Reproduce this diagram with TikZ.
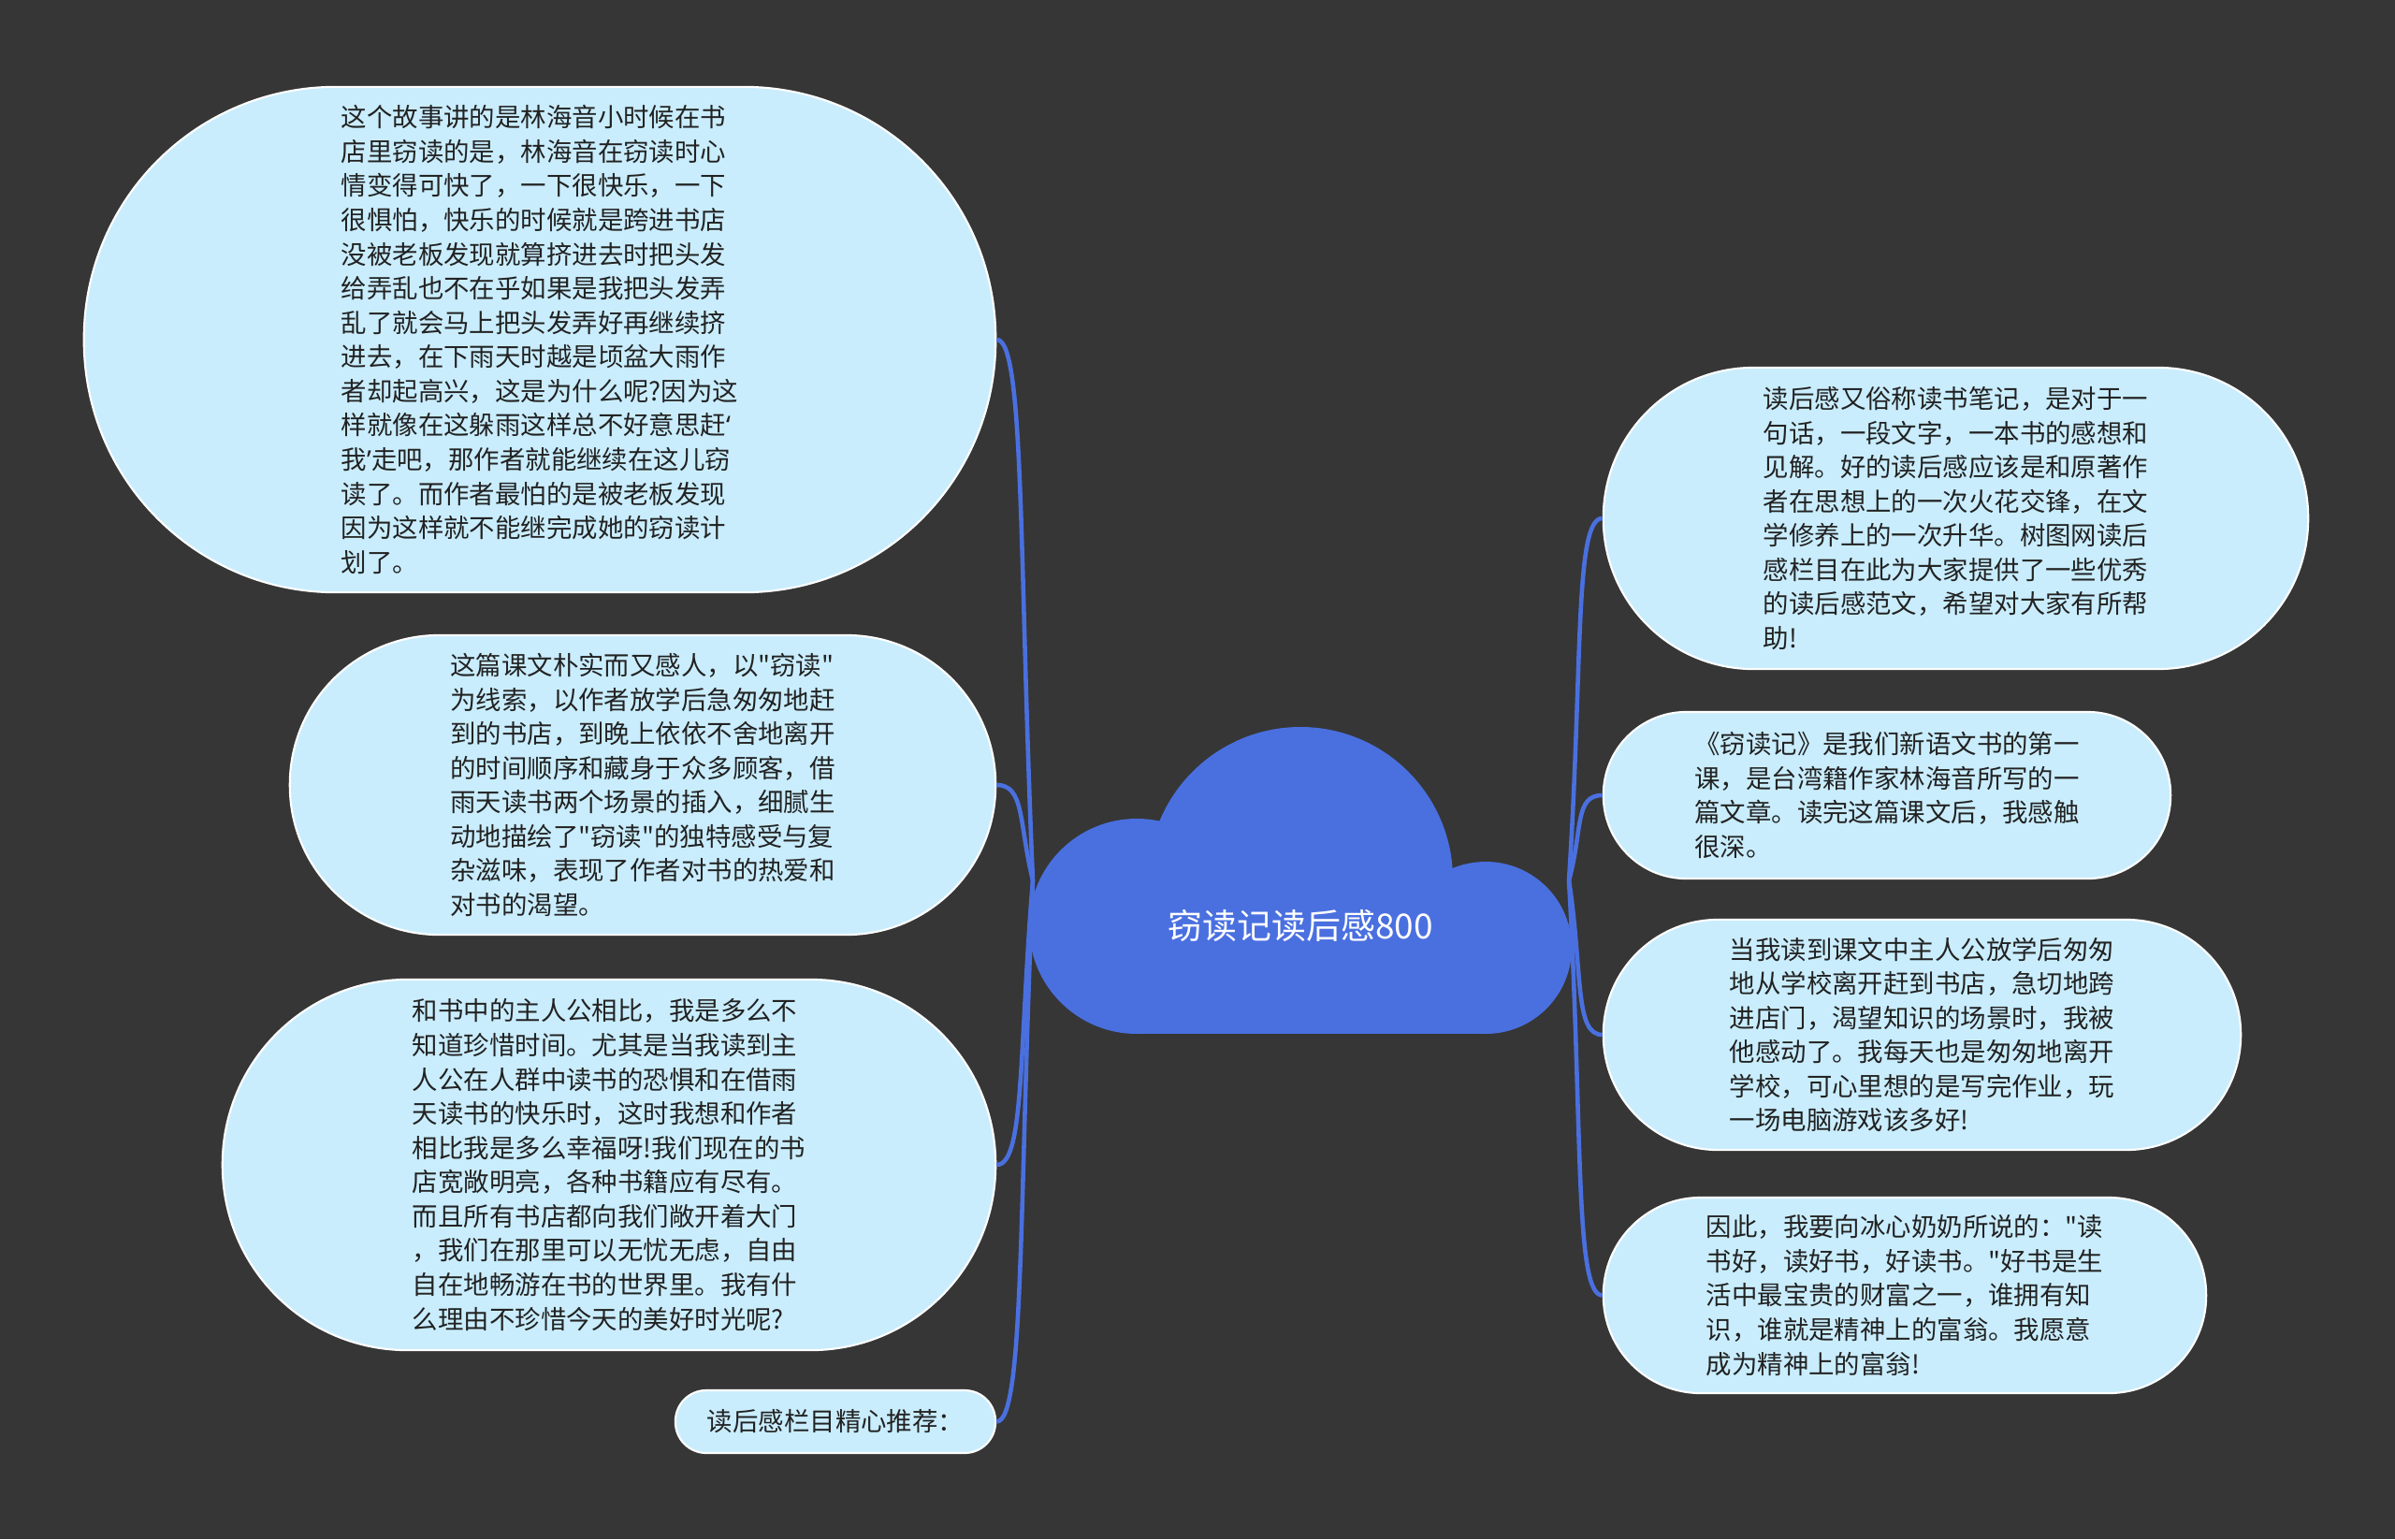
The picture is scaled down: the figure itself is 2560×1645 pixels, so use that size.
\documentclass[tikz,border=0pt]{standalone}
\usepackage{fontspec}
\newfontfamily\cjk{Noto Sans CJK SC}
\newfontfamily\latin{Noto Sans}
\usetikzlibrary{calc}
\definecolor{bgdark}{RGB}{54,54,54}
\definecolor{cloudblue}{RGB}{74,112,224}
\definecolor{leafblue}{RGB}{201,237,253}
\definecolor{inkdark}{RGB}{34,34,34}
\tikzset{
  leaf/.style={draw=white, line width=0.6pt, fill=leafblue, text=inkdark, align=left, inner sep=0pt,
    font=\cjk\fontsize{7.8}{10.4}\selectfont},
  link/.style={cloudblue, line width=1.3pt},
}

\begin{document}
\begin{tikzpicture}[x=0.01cm, y=-0.01cm]
  \fill[bgdark] (0,0) rectangle (2560,1645);
  \useasboundingbox (0,0) rectangle (2560,1645);
  % central cloud
  \foreach \cx/\cy/\r in {1215/990/115, 1390/940/163, 1588/1013/92}
    \fill[cloudblue] (\cx,\cy) circle[radius=\r];
  \fill[cloudblue] (1215,990) rectangle (1588,1105);
  \node[text=white, font=\cjk\fontsize{10.5}{12}\selectfont] (root) at (1390,990) {窃读记读后感800};
  \coordinate (rootW) at (1104,941);
  \coordinate (rootE) at (1677,941);
  % left branches
  \node[leaf, minimum width=9.74cm, minimum height=5.4cm, rounded corners=2.69cm] (l1) at (577,363)
    {这个故事讲的是林海音小时候在书\\店里窃读的是，林海音在窃读时心\\情变得可快了，一下很快乐，一下\\很惧怕，快乐的时候就是跨进书店\\没被老板发现就算挤进去时把头发\\给弄乱也不在乎如果是我把头发弄\\乱了就会马上把头发弄好再继续挤\\进去，在下雨天时越是顷盆大雨作\\者却起高兴，这是为什么呢?因为这\\样就像在这躲雨这样总不好意思赶{\latin ‘}\\我{\latin ’}走吧，那作者就能继续在这儿窃\\读了。而作者最怕的是被老板发现\\因为这样就不能继完成她的窃读计\\划了。};
  \node[leaf, minimum width=7.54cm, minimum height=3.2cm, rounded corners=1.595cm] (l2) at (687,839)
    {这篇课文朴实而又感人，以"窃读"\\为线索，以作者放学后急匆匆地赶\\到的书店，到晚上依依不舍地离开\\的时间顺序和藏身于众多顾客，借\\雨天读书两个场景的插入，细腻生\\动地描绘了"窃读"的独特感受与复\\杂滋味，表现了作者对书的热爱和\\对书的渴望。};
  \node[leaf, minimum width=8.26cm, minimum height=3.96cm, rounded corners=1.975cm] (l3) at (651,1245)
    {和书中的主人公相比，我是多么不\\知道珍惜时间。尤其是当我读到主\\人公在人群中读书的恐惧和在借雨\\天读书的快乐时，这时我想和作者\\相比我是多么幸福呀!我们现在的书\\店宽敞明亮，各种书籍应有尽有。\\而且所有书店都向我们敞开着大门\\，我们在那里可以无忧无虑，自由\\自在地畅游在书的世界里。我有什\\么理由不珍惜今天的美好时光呢?};
  \node[leaf, minimum width=3.42cm, minimum height=0.67cm, rounded corners=0.33cm] (l4) at (893,1519.5)
    {读后感栏目精心推荐：};
  % right branches
  \node[leaf, minimum width=7.53cm, minimum height=3.22cm, rounded corners=1.605cm] (r1) at (2090.5,554)
    {读后感又俗称读书笔记，是对于一\\句话，一段文字，一本书的感想和\\见解。好的读后感应该是和原著作\\者在思想上的一次火花交锋，在文\\学修养上的一次升华。树图网读后\\感栏目在此为大家提供了一些优秀\\的读后感范文，希望对大家有所帮\\助!};
  \node[leaf, minimum width=6.06cm, minimum height=1.78cm, rounded corners=0.885cm] (r2) at (2017,850)
    {《窃读记》是我们新语文书的第一\\课，是台湾籍作家林海音所写的一\\篇文章。读完这篇课文后，我感触\\很深。};
  \node[leaf, minimum width=6.81cm, minimum height=2.46cm, rounded corners=1.225cm] (r3) at (2054.5,1106)
    {当我读到课文中主人公放学后匆匆\\地从学校离开赶到书店，急切地跨\\进店门，渴望知识的场景时，我被\\他感动了。我每天也是匆匆地离开\\学校，可心里想的是写完作业，玩\\一场电脑游戏该多好!};
  \node[leaf, minimum width=6.44cm, minimum height=2.09cm, rounded corners=1.04cm] (r4) at (2036,1384.5)
    {因此，我要向冰心奶奶所说的："读\\书好，读好书，好读书。"好书是生\\活中最宝贵的财富之一，谁拥有知\\识，谁就是精神上的富翁。我愿意\\成为精神上的富翁!};
  % connectors
  \foreach \n in {l1,l2,l3,l4}
    \draw[link] (rootW) .. controls ($(rootW)!0.6!(rootW |- \n.east)+(-15,0)$) and ($(\n.east)+(30,0)$) .. (\n.east);
  \foreach \n in {r1,r2,r3,r4}
    \draw[link] (rootE) .. controls ($(rootE)!0.6!(rootE |- \n.west)+(15,0)$) and ($(\n.west)+(-30,0)$) .. (\n.west);
\end{tikzpicture}
\end{document}
